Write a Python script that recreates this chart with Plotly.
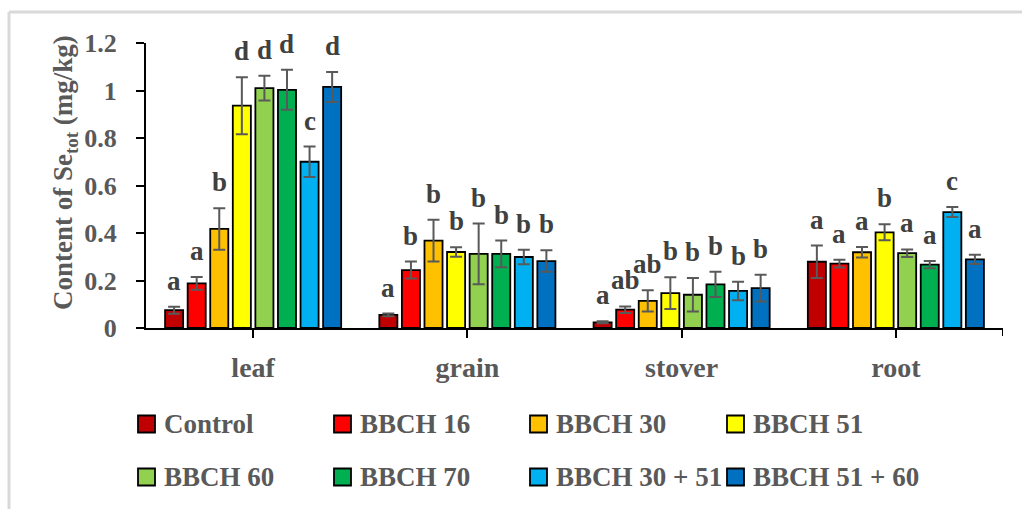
import plotly.graph_objects as go

categories = ["leaf", "grain", "stover", "root"]
series_names = ["Control", "BBCH 16", "BBCH 30", "BBCH 51",
                "BBCH 60", "BBCH 70", "BBCH 30 + 51", "BBCH 51 + 60"]
colors = ["#C00000", "#FF0000", "#FFC000", "#FFFF00",
          "#92D050", "#00B050", "#00B0F0", "#0070C0"]

# values per series: [leaf, grain, stover, root]
values = [
    [0.075, 0.055, 0.024, 0.279],   # Control
    [0.188, 0.244, 0.077, 0.271],   # BBCH 16
    [0.417, 0.368, 0.114, 0.319],   # BBCH 30
    [0.936, 0.320, 0.147, 0.403],   # BBCH 51
    [1.010, 0.312, 0.140, 0.315],   # BBCH 60
    [1.003, 0.312, 0.184, 0.267],   # BBCH 70
    [0.700, 0.299, 0.156, 0.488],   # BBCH 30 + 51
    [1.015, 0.282, 0.168, 0.289],   # BBCH 51 + 60
]
errors = [
    [0.015, 0.006, 0.004, 0.068],
    [0.027, 0.036, 0.014, 0.016],
    [0.087, 0.088, 0.045, 0.022],
    [0.120, 0.020, 0.067, 0.034],
    [0.052, 0.128, 0.071, 0.016],
    [0.084, 0.056, 0.053, 0.015],
    [0.064, 0.031, 0.039, 0.021],
    [0.063, 0.045, 0.056, 0.019],
]
letters = [
    ["a", "a", "a", "a"],
    ["a", "b", "ab", "a"],
    ["b", "b", "ab", "a"],
    ["d", "b", "b", "b"],
    ["d", "b", "b", "a"],
    ["d", "b", "b", "a"],
    ["c", "b", "b", "c"],
    ["d", "b", "b", "a"],
]
y_ticks = [0, 0.2, 0.4, 0.6, 0.8, 1.0, 1.2]
y_ticktext = ["0", "0.2", "0.4", "0.6", "0.8", "1", "1.2"]

W, H = 1022, 509
ML, MR, MT, MB = 146, 19, 43, 181
PW, PH = W - ML - MR, H - MT - MB
FONT = "Liberation Serif"
GREY = "#595959"

def px_x(x):
    return (x - ML) / PW

def px_y(y):
    return (H - MB - y) / PH

BARGAP = 0.157
BARGROUPGAP = 0.2

fig = go.Figure()
for i, name in enumerate(series_names):
    fig.add_trace(go.Bar(
        name=name, x=categories, y=values[i],
        marker=dict(color=colors[i], line=dict(color="black", width=1.8)),
        error_y=dict(type="data", array=errors[i], visible=True,
                     color=GREY, thickness=2, width=6),
        showlegend=False,
    ))

# significance letters above the error bars
cat_px = PW / 4
slot_px = cat_px * (1 - BARGAP) / len(series_names)
annotations = []
for i in range(len(series_names)):
    for j, cat in enumerate(categories):
        annotations.append(dict(
            x=cat, y=values[i][j] + errors[i][j], xref="x", yref="y",
            text=letters[i][j], showarrow=False,
            xshift=(i - (len(series_names) - 1) / 2) * slot_px,
            yanchor="bottom", yshift=9,
            font=dict(family=FONT, size=27, color="#404040", weight="bold"),
        ))

# y-axis title
annotations.append(dict(
    x=px_x(65), y=px_y(173), xref="paper", yref="paper",
    text="Content of Se<sub>tot</sub> (mg/kg)", textangle=-90,
    showarrow=False, xanchor="center", yanchor="middle",
    font=dict(family=FONT, size=27, color=GREY, weight="bold"),
))

# manual legend (2 rows x 4 columns)
shapes = []
col_left = [138, 334, 530, 727]
row_mid = [424, 477]
SQ = 17
for k, name in enumerate(series_names):
    r, c = divmod(k, 4)
    x0 = col_left[c]
    ym = row_mid[r]
    shapes.append(dict(
        type="rect", xref="paper", yref="paper",
        x0=px_x(x0), x1=px_x(x0 + SQ),
        y0=px_y(ym + SQ / 2), y1=px_y(ym - SQ / 2),
        fillcolor=colors[k], line=dict(color="black", width=1.8),
    ))
    annotations.append(dict(
        x=px_x(x0 + 24), y=px_y(ym), xref="paper", yref="paper",
        text=name, showarrow=False, xanchor="left", yanchor="middle",
        font=dict(family=FONT, size=27, color=GREY, weight="bold"),
    ))

# right-end x tick
shapes.append(dict(type="line", xref="x", yref="paper",
                   x0=3.5, x1=3.5, y0=0, y1=-8 / PH,
                   line=dict(color="black", width=2)))

# outer partial frame (top and left)
shapes.append(dict(type="line", xref="paper", yref="paper",
                   x0=px_x(9), x1=px_x(1030), y0=px_y(12), y1=px_y(12),
                   line=dict(color="#d9d9d9", width=3)))
shapes.append(dict(type="line", xref="paper", yref="paper",
                   x0=px_x(9), x1=px_x(9), y0=px_y(12), y1=px_y(520),
                   line=dict(color="#d9d9d9", width=3)))

fig.update_layout(
    width=W, height=H,
    margin=dict(l=ML, r=MR, t=MT, b=MB, autoexpand=False),
    paper_bgcolor="white", plot_bgcolor="white",
    barmode="group", bargap=BARGAP, bargroupgap=BARGROUPGAP,
    annotations=annotations, shapes=shapes,
    xaxis=dict(
        type="category", range=[-0.5, 3.5],
        showline=True, linecolor="black", linewidth=2,
        ticks="outside", ticklen=8, tickwidth=2, tickcolor="black",
        tickfont=dict(family=FONT, size=28, color=GREY, weight="bold"),
        ticklabelstandoff=5, showgrid=False, zeroline=False,
    ),
    yaxis=dict(
        range=[0, 1.2], tickvals=y_ticks, ticktext=y_ticktext,
        showline=True, linecolor="black", linewidth=2,
        ticks="outside", ticklen=8, tickwidth=2, tickcolor="black",
        tickfont=dict(family=FONT, size=26, color=GREY, weight="bold"),
        ticklabelstandoff=14, showgrid=False, zeroline=False,
    ),
)

fig.write_html("out.html")
